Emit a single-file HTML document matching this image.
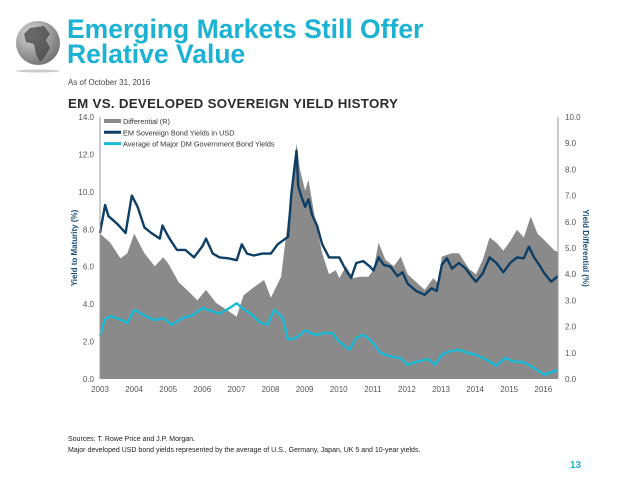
<!DOCTYPE html>
<html><head><meta charset="utf-8">
<style>
html,body{margin:0;padding:0;background:#fff;}
body{width:638px;height:479px;position:relative;overflow:hidden;font-family:"Liberation Sans",Arial,sans-serif;}
.abs{position:absolute;margin:0;}
</style></head>
<body>
<svg class="abs" style="left:10px;top:14px" width="60" height="62">
 <defs><radialGradient id="g" cx="0.35" cy="0.3" r="0.8"><stop offset="0" stop-color="#d8d8d8"/><stop offset="1" stop-color="#6a6a6a"/></radialGradient></defs>
 <circle cx="28" cy="29" r="22" fill="url(#g)"/>
 <path d="M20 14 L34 12 L40 20 L36 26 L40 34 L34 44 L30 48 L26 40 L24 30 L16 28 L14 20 Z" fill="#444" opacity="0.75"/>
 <ellipse cx="28" cy="57" rx="22" ry="1.5" fill="#ccc"/>
</svg>
<div class="abs" style="left:67px;top:17px;font-size:26.5px;line-height:25px;font-weight:bold;color:#1bb2d3;">Emerging Markets Still Offer<br>Relative Value</div>
<div class="abs" style="left:68px;top:78px;font-size:8px;color:#444;">As of October 31, 2016</div>
<div class="abs" style="left:68px;top:96px;font-size:13.3px;font-weight:bold;color:#2b2b2b;letter-spacing:0.3px;">EM VS. DEVELOPED SOVEREIGN YIELD HISTORY</div>

<svg id="chart" class="abs" style="left:0;top:0" width="638" height="420"></svg>

<div class="abs" style="left:68px;top:434px;font-size:7px;line-height:11px;color:#222;">Sources: T. Rowe Price and J.P. Morgan.<br>Major developed USD bond yields represented by the average of U.S., Germany, Japan, UK 5 and 10-year yields.</div>
<div class="abs" style="left:570px;top:460px;font-size:10px;font-weight:bold;color:#1bb2d3;">13</div>

<script>
const emT=[2003.0,2003.15,2003.25,2003.5,2003.75,2003.93,2004.1,2004.3,2004.5,2004.75,2004.83,2005.0,2005.25,2005.5,2005.75,2006.0,2006.1,2006.3,2006.5,2006.75,2007.0,2007.15,2007.3,2007.5,2007.75,2008.0,2008.2,2008.5,2008.6,2008.75,2008.8,2008.9,2009.0,2009.1,2009.2,2009.35,2009.5,2009.7,2009.9,2010.0,2010.2,2010.35,2010.5,2010.7,2010.9,2011.0,2011.15,2011.3,2011.5,2011.7,2011.85,2012.0,2012.25,2012.5,2012.7,2012.85,2013.0,2013.15,2013.3,2013.5,2013.7,2013.9,2014.0,2014.2,2014.4,2014.6,2014.8,2015.0,2015.2,2015.4,2015.55,2015.7,2015.85,2016.0,2016.2,2016.4];
const emYield=[7.8,9.3,8.7,8.3,7.8,9.8,9.2,8.1,7.8,7.5,8.2,7.6,6.9,6.9,6.5,7.1,7.5,6.7,6.5,6.45,6.35,7.2,6.7,6.6,6.7,6.7,7.2,7.6,9.9,12.2,10.3,9.7,9.2,9.6,8.8,8.2,7.2,6.5,6.5,6.5,5.8,5.4,6.2,6.3,6.0,5.8,6.5,6.1,6.0,5.5,5.7,5.1,4.7,4.5,4.85,4.7,6.1,6.45,5.9,6.2,5.9,5.4,5.2,5.65,6.5,6.2,5.7,6.2,6.5,6.45,7.07,6.5,6.1,5.65,5.2,5.5];
const dmT=[2003.0,2003.15,2003.3,2003.5,2003.8,2004.0,2004.3,2004.6,2004.85,2005.1,2005.4,2005.7,2006.0,2006.3,2006.5,2006.8,2007.0,2007.15,2007.4,2007.7,2007.9,2008.1,2008.35,2008.5,2008.75,2009.0,2009.3,2009.55,2009.8,2010.0,2010.3,2010.5,2010.7,2010.9,2011.0,2011.2,2011.5,2011.8,2012.0,2012.3,2012.6,2012.8,2013.0,2013.2,2013.5,2013.8,2014.0,2014.3,2014.6,2014.85,2015.1,2015.4,2015.7,2016.0,2016.3,2016.4];
const dmYield=[2.3,3.2,3.35,3.25,3.0,3.7,3.4,3.15,3.25,2.9,3.25,3.4,3.8,3.6,3.5,3.8,4.05,3.8,3.5,3.0,2.9,3.7,3.25,2.1,2.2,2.6,2.35,2.45,2.45,2.0,1.56,2.2,2.36,2.1,1.9,1.4,1.2,1.12,0.76,0.94,1.07,0.76,1.3,1.47,1.56,1.38,1.3,1.03,0.71,1.12,0.94,0.9,0.59,0.23,0.41,0.5];
const diffT=[2003.0,2003.3,2003.6,2003.8,2004.0,2004.3,2004.6,2004.85,2005.0,2005.3,2005.6,2005.85,2006.1,2006.4,2006.7,2007.0,2007.2,2007.5,2007.8,2008.0,2008.3,2008.55,2008.75,2008.85,2009.0,2009.1,2009.3,2009.5,2009.7,2009.9,2010.0,2010.2,2010.4,2010.6,2010.85,2011.0,2011.15,2011.35,2011.6,2011.8,2012.0,2012.25,2012.5,2012.75,2012.9,2013.0,2013.3,2013.5,2013.8,2014.0,2014.2,2014.4,2014.6,2014.8,2015.0,2015.2,2015.4,2015.6,2015.8,2016.0,2016.3,2016.4];
const diffVal=[5.55,5.2,4.6,4.8,5.55,4.8,4.3,4.65,4.4,3.7,3.33,3.0,3.4,2.9,2.64,2.38,3.2,3.5,3.78,3.1,3.9,6.6,9.0,8.0,7.2,7.6,6.06,4.8,4.0,4.15,3.85,4.3,3.85,3.9,3.9,4.16,5.2,4.55,4.3,4.67,4.0,3.7,3.4,3.85,3.65,4.67,4.8,4.8,4.2,4.0,4.55,5.4,5.2,4.9,5.25,5.7,5.4,6.2,5.55,5.3,4.9,4.85];
const leftTicks=["0.0","2.0","4.0","6.0","8.0","10.0","12.0","14.0"];
const rightTicks=["0.0","1.0","2.0","3.0","4.0","5.0","6.0","7.0","8.0","9.0","10.0"];
const yearLabels=["2003","2004","2005","2006","2007","2008","2009","2010","2011","2012","2013","2014","2015","2016"];

const NS="http://www.w3.org/2000/svg";
const svg=document.getElementById('chart');
const X0=100,X1=558,YT=117,YB=379;
const tMin=2003,tMax=2016.4;
const x=t=>X0+(t-tMin)*(X1-X0)/(tMax-tMin);
const yL=v=>YB-v*(YB-YT)/14;
const yR=v=>YB-v*(YB-YT)/10;
function mk(tag,attrs){const e=document.createElementNS(NS,tag);for(const k in attrs)e.setAttribute(k,attrs[k]);svg.appendChild(e);return e;}

let d=`M${x(diffT[0])},${YB}`;
diffT.forEach((t,i)=>{d+=` L${x(t).toFixed(1)},${yR(diffVal[i]).toFixed(1)}`;});
d+=` L${x(diffT[diffT.length-1])},${YB} Z`;
const area=mk('path',{d:d,fill:'#8a8a8a'});



const pts=(T,V)=>T.map((t,i)=>x(t).toFixed(1)+','+yL(V[i]).toFixed(1)).join(' ');
const dm=mk('polyline',{points:pts(dmT,dmYield),fill:'none',stroke:'#1bbad6','stroke-width':2.4,'stroke-linejoin':'round'});


const em=mk('polyline',{points:pts(emT,emYield),fill:'none',stroke:'#0d3f66','stroke-width':2.4,'stroke-linejoin':'round'});



const la=mk('line',{x1:X0,y1:YT,x2:X0,y2:YB,stroke:'#999','stroke-width':1});


const ra=mk('line',{x1:X1,y1:YT,x2:X1,y2:YB,stroke:'#999','stroke-width':1});



leftTicks.forEach(s=>{const t=mk('text',{x:94,y:yL(parseFloat(s))+3,'text-anchor':'end','font-size':8,fill:'#555'});t.textContent=s;

});
rightTicks.forEach(s=>{const t=mk('text',{x:565,y:yR(parseFloat(s))+3,'font-size':8,fill:'#555'});t.textContent=s;

});
yearLabels.forEach(s=>{const t=mk('text',{x:100+(parseInt(s)-2003)*34.1,y:392,'text-anchor':'middle','font-size':8,fill:'#555'});t.textContent=s;

});

const lt=mk('text',{x:0,y:0,transform:'translate(77,248) rotate(-90)','text-anchor':'middle','font-size':8,'font-weight':'bold',fill:'#1a4f7a'});lt.textContent='Yield to Maturity (%)';


const rt=mk('text',{x:0,y:0,transform:'translate(583,248) rotate(90)','text-anchor':'middle','font-size':8,'font-weight':'bold',fill:'#1a4f7a'});rt.textContent='Yield Differential (%)';



const leg=[['Differential (R)','#8a8a8a',4],['EM Sovereign Bond Yields in USD','#0d3f66',3],['Average of Major DM Government Bond Yields','#1bbad6',3]];
leg.forEach((l,i)=>{const yy=121+i*11.3;
const ln=mk('line',{x1:104,y1:yy,x2:121,y2:yy,stroke:l[1],'stroke-width':l[2]});


const tx=mk('text',{x:123,y:yy+3,'font-size':7.3,fill:'#333'});tx.textContent=l[0];

});
</script>
</body></html>
